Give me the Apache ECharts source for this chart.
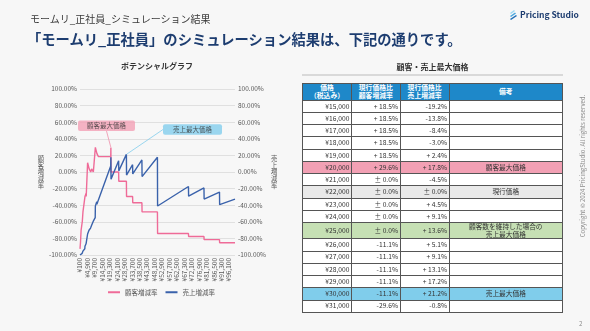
<!DOCTYPE html>
<html><head><meta charset="utf-8">
<script src="https://cdn.jsdelivr.net/npm/echarts@6/dist/echarts.min.js"></script>
<style>
html,body{margin:0;padding:0;}
body{width:590px;height:331px;overflow:hidden;background:#f7f7f7;position:relative;font-family:"Noto Sans CJK JP","Noto Sans",sans-serif;color:#333;}
#chart{position:absolute;left:0;top:0;width:590px;height:331px;}
.abs{position:absolute;white-space:nowrap;}
#sub{left:30px;top:12px;font-size:10px;line-height:13px;color:#3a3a3a;}
#title{left:27px;top:30px;font-size:14.3px;line-height:18px;font-weight:bold;color:#1d3d70;}
#logo{left:509px;top:9px;font-size:8.5px;line-height:11px;font-weight:bold;color:#1d3d70;display:flex;align-items:center;}
#logo svg{margin-right:2px;}
#rtitle{left:302px;width:261px;top:62px;text-align:center;font-size:8px;font-weight:bold;line-height:10px;color:#333;}
#rline{left:302px;top:74px;width:261px;height:2px;background:#d9d9d9;}
#tbl{position:absolute;left:302px;top:83px;width:261px;height:229px;}
.cell{position:absolute;box-sizing:border-box;border:1px solid #555;display:flex;align-items:center;font-size:6.7px;line-height:7.4px;color:#333;white-space:nowrap;overflow:hidden;}
.cell.num{justify-content:flex-end;padding-right:1.5px;}
.cell.note{justify-content:center;text-align:center;}
.cell.head{justify-content:center;text-align:center;background:#1e88c9;color:#fff;font-weight:bold;font-size:6.8px;line-height:7.6px;}
#copy{left:583px;top:166px;transform:translate(-50%,-50%) rotate(-90deg);font-size:6px;line-height:8px;color:#8c8c8c;}
#page{left:579px;top:320px;font-size:6px;line-height:8px;color:#8c8c8c;}
</style></head>
<body>
<div id="chart"></div>
<div class="abs" id="sub">モームリ_正社員_シミュレーション結果</div>
<div class="abs" id="title">「モームリ_正社員」のシミュレーション結果は、下記の通りです。</div>
<div class="abs" id="logo"><svg width="9" height="10" viewBox="0 0 9 10"><polygon points="1,3 5,0 6,1 2,4" fill="#9fd8f2"/><polygon points="1,6 6,2.5 7,3.5 2,7" fill="#4aa8e0"/><polygon points="1,9 7,5 8,6 2,10" fill="#1f6fb8"/></svg>Pricing Studio</div>
<div class="abs" id="rtitle">顧客・売上最大価格</div>
<div class="abs" id="rline"></div>
<div id="tbl"></div>
<div class="abs" id="copy">Copyright © 2024 PricingStudio. All rights reserved.</div>
<div class="abs" id="page">2</div>
<script>
// ---- chart data (price in yen, rates in %) ----
const prices = [100,300,400,700,800,1500,1600,1900,2000,3200,3300,3900,4000,4100,4900,5000,5900,6000,6900,7000,7500,7600,8600,8700,9900,10000,10900,11000,11900,12000,19900,20000,20100,25000,25100,30000,30100,34000,34100,40000,40100,50000,50100,70000,70100,80000,80100,90000,90100,100000];
const customerRates = [-92.6,-92.6,-85.2,-85.2,-70.4,-70.4,-59.3,-59.3,-48.1,-48.1,-29.6,-29.6,-25.9,-29.6,-29.6,11.1,11.1,3.7,3.7,0.0,0.0,3.7,3.7,0.0,0.0,29.6,29.6,22.2,22.2,18.5,18.5,29.6,0.0,0.0,-11.1,-11.1,-29.6,-29.6,-37.0,-37.0,-48.1,-48.1,-74.1,-74.1,-77.8,-77.8,-81.5,-81.5,-85.2,-85.2];
const revenueRates = [-100.0,-99.9,-99.7,-99.5,-98.9,-98.0,-97.0,-96.5,-95.3,-92.5,-89.4,-87.5,-86.5,-86.9,-84.3,-74.7,-70.2,-71.7,-67.5,-68.2,-65.9,-64.2,-59.5,-60.5,-55.0,-41.1,-35.8,-38.9,-33.9,-35.4,7.2,17.8,-8.6,13.6,1.4,21.2,-3.7,8.8,-2.4,14.5,-5.5,17.8,-41.0,-17.5,-29.2,-19.2,-32.6,-24.2,-39.3,-32.7];
const xTickValues = [100,4900,9700,14500,19300,24100,28900,33700,38500,43300,48100,52900,57700,62500,67300,72100,76900,81700,86500,91300,96100];
const seriesNames = ['顧客増減率','売上増減率'];
const customerMax = {price:20000, rate:29.6, label:'顧客最大価格'};
const revenueMax = {price:30000, rate:21.2, label:'売上最大価格'};

// ---- table data ----
const tableHeaders = ['価格<br>（税込み）','現行価格比<br>顧客増減率','現行価格比<br>売上増減率','備考'];
const tablePrices = ['¥15,000','¥16,000','¥17,000','¥18,000','¥19,000','¥20,000','¥21,000','¥22,000','¥23,000','¥24,000','¥25,000','¥26,000','¥27,000','¥28,000','¥29,000','¥30,000','¥31,000'];
const tableCustomerRates = ['+ 18.5%','+ 18.5%','+ 18.5%','+ 18.5%','+ 18.5%','+ 29.6%','± 0.0%','± 0.0%','± 0.0%','± 0.0%','± 0.0%','-11.1%','-11.1%','-11.1%','-11.1%','-11.1%','-29.6%'];
const tableRevenueRates = ['-19.2%','-13.8%','-8.4%','-3.0%','+ 2.4%','+ 17.8%','-4.5%','± 0.0%','+ 4.5%','+ 9.1%','+ 13.6%','+ 5.1%','+ 9.1%','+ 13.1%','+ 17.2%','+ 21.2%','-0.8%'];
const tableNotes = ['','','','','','顧客最大価格','','現行価格','','','顧客数を維持した場合の<br>売上最大価格','','','','','売上最大価格',''];
const rowFills = {5:'#f2a0b4', 7:'#e9e9e9', 10:'#c6e0b4', 15:'#80cdeb'};

// ---- table layout ----
const colW = [49, 48.6, 49, 113.4];
const headerH = 16.6, rowH = 12.25, tallRow = 10, tallH = 16.2;
const tbl = document.getElementById('tbl');
function cell(x, y, w, h, cls, html, bg) {
  const d = document.createElement('div');
  d.className = 'cell ' + cls;
  d.style.left = x + 'px'; d.style.top = y + 'px';
  d.style.width = (w + 1) + 'px'; d.style.height = (h + 1) + 'px';
  if (bg) d.style.background = bg;
  d.innerHTML = html;
  tbl.appendChild(d);
}
const colX = colW.reduce((a, w, i) => { a.push(i ? a[i-1] + colW[i-1] : 0); return a; }, []);
tableHeaders.forEach((h, c) => cell(colX[c], 0, colW[c], headerH, 'head', h));
let y = headerH;
tablePrices.forEach((p, i) => {
  const h = i === tallRow ? tallH : rowH;
  const bg = rowFills[i] || '#ffffff';
  cell(colX[0], y, colW[0], h, 'num', p, bg);
  cell(colX[1], y, colW[1], h, 'num', tableCustomerRates[i], bg);
  cell(colX[2], y, colW[2], h, 'num', tableRevenueRates[i], bg);
  cell(colX[3], y, colW[3], h, 'note', tableNotes[i], bg);
  y += h;
});

const font = '"Noto Sans CJK JP","Noto Sans",sans-serif';
const pink = '#ef6b98', blue = '#3a62ab';
const chart = echarts.init(document.getElementById('chart'));
const yLabel = {formatter: v => v.toFixed(2) + '%', fontSize: 6.5, color: '#595959', margin: 3, fontFamily: font};
chart.setOption({
  animation: false,
  textStyle: {fontFamily: font},
  title: {text: 'ポテンシャルグラフ', left: 157, top: 62, textAlign: 'center', padding: 0,
          textStyle: {fontSize: 8, fontWeight: 'bold', color: '#333', fontFamily: font}},
  legend: {data: seriesNames, left: 108, top: 289, icon: 'rect', itemWidth: 12, itemHeight: 2, itemGap: 8, padding: 0,
           textStyle: {fontSize: 6.5, color: '#595959', fontFamily: font}},
  grid: {left: 80, top: 89, width: 155, height: 166},
  xAxis: {type: 'value', min: 100, max: 100000,
          axisLine: {show: false}, axisTick: {show: false}, splitLine: {show: false},
          axisLabel: {customValues: xTickValues, rotate: 90, fontSize: 6.5, color: '#595959', margin: 3, fontFamily: font,
                      formatter: v => '¥' + v.toLocaleString('en-US')}},
  yAxis: [
    {type: 'value', min: -100, max: 100, interval: 20, position: 'left',
     name: seriesNames[0].split('').join('\n'), nameLocation: 'middle', nameGap: 36, nameRotate: 0,
     nameTextStyle: {fontSize: 6.3, lineHeight: 6.6, color: '#595959', align: 'center', verticalAlign: 'middle', fontFamily: font},
     axisLine: {show: false}, axisTick: {show: false}, axisLabel: yLabel,
     splitLine: {lineStyle: {color: '#e0e0e0', width: 1}}},
    {type: 'value', min: -100, max: 100, interval: 20, position: 'right',
     name: seriesNames[1].split('').join('\n'), nameLocation: 'middle', nameGap: 39, nameRotate: 0,
     nameTextStyle: {fontSize: 6.3, lineHeight: 6.6, color: '#595959', align: 'center', verticalAlign: 'middle', fontFamily: font},
     axisLine: {show: false}, axisTick: {show: false}, axisLabel: yLabel, splitLine: {show: false}}
  ],
  series: [
    {name: seriesNames[0], type: 'line', yAxisIndex: 0, symbol: 'none', showSymbol: false,
     data: prices.map((p, i) => [p, customerRates[i]]),
     lineStyle: {color: pink, width: 1.4}, itemStyle: {color: pink}},
    {name: seriesNames[1], type: 'line', yAxisIndex: 1, symbol: 'none', showSymbol: false,
     data: prices.map((p, i) => [p, revenueRates[i]]),
     lineStyle: {color: blue, width: 1.4}, itemStyle: {color: blue}},
    {type: 'scatter', yAxisIndex: 0, symbolSize: 1, silent: true, itemStyle: {color: 'rgba(0,0,0,0)'},
     data: [[customerMax.price, customerMax.rate]],
     label: {show: true, formatter: customerMax.label, backgroundColor: '#f3a0b5', color: '#333', fontSize: 6.5,
             padding: [2, 9], borderRadius: 2, fontFamily: font},
     labelLayout: {x: 106.5, y: 125.8, align: 'center', verticalAlign: 'middle'},
     labelLine: {show: true, lineStyle: {color: '#ef8fab', width: 0.8}}},
    {type: 'scatter', yAxisIndex: 1, symbolSize: 1, silent: true, itemStyle: {color: 'rgba(0,0,0,0)'},
     data: [[revenueMax.price, revenueMax.rate]],
     label: {show: true, formatter: revenueMax.label, backgroundColor: '#82cdec', color: '#333', fontSize: 6.5,
             padding: [2, 10], borderRadius: 2, fontFamily: font},
     labelLayout: {x: 192.5, y: 129.5, align: 'center', verticalAlign: 'middle'},
     labelLine: {show: true, lineStyle: {color: '#82cdec', width: 0.8}}}
  ]
});
</script>
</body></html>
